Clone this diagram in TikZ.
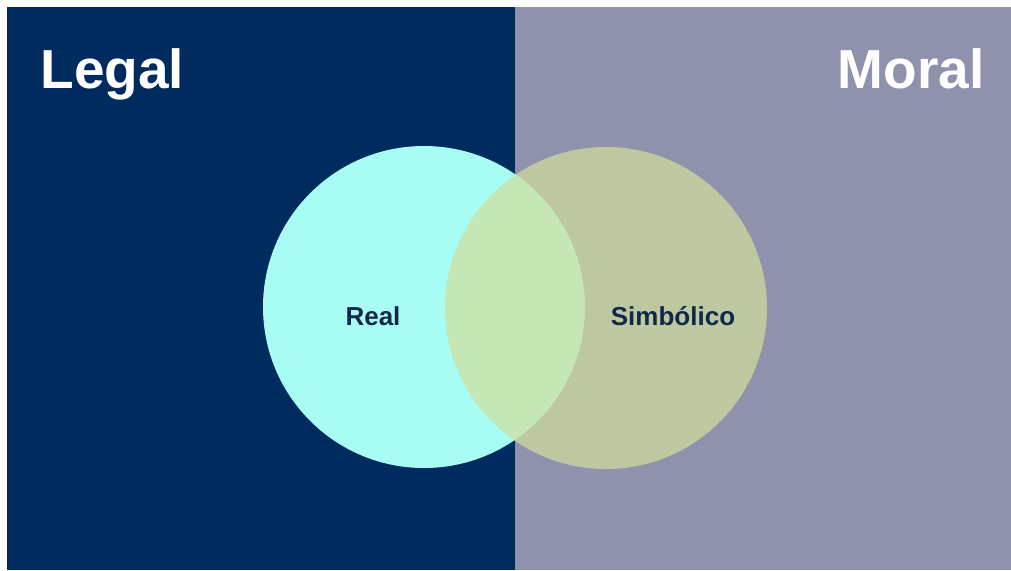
\documentclass[tikz,border=0pt]{standalone}
\usepackage{fontspec}
\setmainfont{Liberation Sans}
\usepackage{xcolor}
\definecolor{legalblue}{RGB}{0,43,94}
\definecolor{moralgray}{RGB}{143,146,172}
\definecolor{realcyan}{RGB}{167,253,244}
\definecolor{simbkhaki}{RGB}{210,223,155}
\definecolor{labelnavy}{RGB}{18,40,74}

\begin{document}
\begin{tikzpicture}[x=0.5pt,y=-0.5pt]
        % page and the two halves
        \fill[white] (0,0) rectangle (1011,570);
        \fill[legalblue] (7,7) rectangle (515,570);
        \fill[moralgray] (515,7) rectangle (1011,570);
        % the two circles, the right one lets the left one show through
        \fill[realcyan] (424,307) circle[radius=80.5pt];
        \fill[simbkhaki,fill opacity=0.7] (606,308) circle[radius=80.5pt];
        \node[anchor=base west,inner sep=0pt,text=white,font=\fontsize{27.5}{30}\selectfont\bfseries] (legal) at (40,88) {Legal};
        \node[anchor=base east,inner sep=0pt,text=white,font=\fontsize{27.5}{30}\selectfont\bfseries] (moral) at (985,88) {Moral};
        \node[anchor=base,inner sep=0pt,text=labelnavy,font=\fontsize{13}{15}\selectfont\bfseries] (real) at (373,325) {Real};
        \node[anchor=base,inner sep=0pt,text=labelnavy,font=\fontsize{13}{15}\selectfont\bfseries] (simb) at (673,325) {Simbólico};
      \end{tikzpicture}
\end{document}
